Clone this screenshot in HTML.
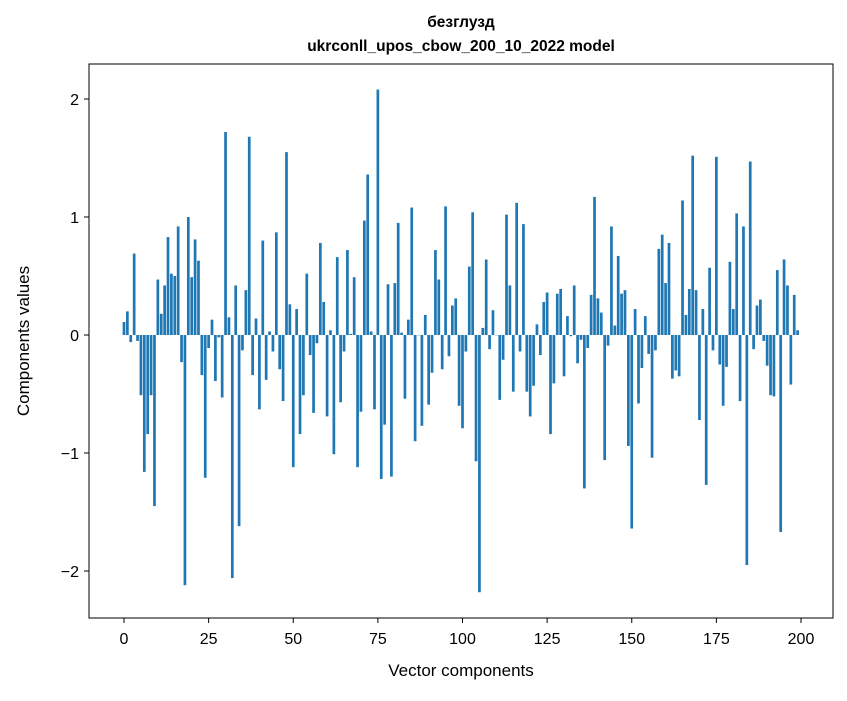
<!DOCTYPE html>
<html><head><meta charset="utf-8"><style>
body{margin:0;background:#fff;}
svg text{font-family:"Liberation Sans","Noto Sans CJK SC",sans-serif;fill:#000;}
</style></head><body>
<svg id="chart" width="847" height="696" viewBox="0 0 847 696" xmlns="http://www.w3.org/2000/svg">
<rect width="847" height="696" fill="#fff"/>
<text x="461" y="27" text-anchor="middle" font-size="15.5" font-weight="bold">безглузд</text>
<text x="461" y="51" text-anchor="middle" font-size="15.5" font-weight="bold">ukrconll_upos_cbow_200_10_2022 model</text>
<g id="bars"></g>
<g id="xticks"></g>
<g id="yticks"></g>
<rect x="89" y="64" width="744" height="554" fill="none" stroke="#000" stroke-width="1"/>
<text x="461" y="676" text-anchor="middle" font-size="17">Vector components</text>
<text transform="translate(29,341) rotate(-90)" text-anchor="middle" font-size="17">Components values</text>
</svg>
<script>
const values = [
0.11,0.20,-0.06,0.69,-0.05,-0.51,-1.16,-0.84,-0.51,-1.45,
0.47,0.18,0.42,0.83,0.52,0.50,0.92,-0.23,-2.12,1.00,
0.49,0.81,0.63,-0.34,-1.21,-0.11,0.13,-0.39,-0.02,-0.53,
1.72,0.15,-2.06,0.42,-1.62,-0.13,0.38,1.68,-0.34,0.14,
-0.63,0.80,-0.38,0.03,-0.14,0.87,-0.29,-0.56,1.55,0.26,
-1.12,0.22,-0.84,-0.51,0.52,-0.17,-0.66,-0.07,0.78,0.28,
-0.69,0.04,-1.01,0.66,-0.57,-0.14,0.72,0.01,0.49,-1.12,
-0.65,0.97,1.36,0.03,-0.63,2.08,-1.22,-0.76,0.43,-1.20,
0.44,0.95,0.02,-0.54,0.13,1.08,-0.90,0.00,-0.77,0.17,
-0.59,-0.32,0.72,0.47,-0.29,1.09,-0.18,0.25,0.31,-0.60,
-0.79,-0.14,0.58,1.04,-1.07,-2.18,0.06,0.64,-0.12,0.21,
0.00,-0.55,-0.21,1.02,0.42,-0.48,1.12,-0.14,0.94,-0.48,
-0.69,-0.43,0.09,-0.17,0.28,0.36,-0.84,-0.41,0.35,0.39,
-0.35,0.16,-0.01,0.42,-0.24,-0.04,-1.30,-0.11,0.34,1.17,
0.31,0.19,-1.06,-0.09,0.92,0.08,0.67,0.35,0.38,-0.94,
-1.64,0.22,-0.58,-0.28,0.16,-0.16,-1.04,-0.13,0.73,0.85,
0.44,0.78,-0.37,-0.30,-0.35,1.14,0.17,0.39,1.52,0.38,
-0.72,0.22,-1.27,0.57,-0.13,1.51,-0.25,-0.60,-0.27,0.62,
0.22,1.03,-0.56,0.92,-1.95,1.47,-0.12,0.25,0.30,-0.05,
-0.26,-0.51,-0.52,0.55,-1.67,0.64,0.42,-0.42,0.34,0.04
];
const xTicks = [0,25,50,75,100,125,150,175,200];
const yTicks = [-2,-1,0,1,2];
const NS="http://www.w3.org/2000/svg";
function xs(v){return 124 + v*(801-124)/200;}
function ys(v){return 335 - v*118;}
const bw = 0.8*(801-124)/200;
const gb=document.getElementById('bars');
values.forEach((v,i)=>{
  const r=document.createElementNS(NS,'rect');
  
  
  const y0=ys(Math.max(v,0)), y1=ys(Math.min(v,0));
  r.setAttribute('x',xs(i)-bw/2);r.setAttribute('y',y0);
  r.setAttribute('width',bw);r.setAttribute('height',Math.max(y1-y0,0.3));
  r.setAttribute('fill','#1f77b4');
  gb.appendChild(r);
});
const gx=document.getElementById('xticks');
xTicks.forEach(t=>{
  const l=document.createElementNS(NS,'line');
  
  
  l.setAttribute('x1',xs(t));l.setAttribute('x2',xs(t));l.setAttribute('y1',618);l.setAttribute('y2',623);l.setAttribute('stroke','#000');
  gx.appendChild(l);
  const tx=document.createElementNS(NS,'text');
  
  
  tx.setAttribute('x',xs(t));tx.setAttribute('y',644);tx.setAttribute('text-anchor','middle');tx.setAttribute('font-size','16');
  tx.textContent=String(t);
  gx.appendChild(tx);
});
const gy=document.getElementById('yticks');
yTicks.forEach(t=>{
  const l=document.createElementNS(NS,'line');
  
  
  l.setAttribute('x1',84);l.setAttribute('x2',89);l.setAttribute('y1',ys(t));l.setAttribute('y2',ys(t));l.setAttribute('stroke','#000');
  gy.appendChild(l);
  const tx=document.createElementNS(NS,'text');
  
  
  tx.setAttribute('x',79);tx.setAttribute('y',ys(t)+6);tx.setAttribute('text-anchor','end');tx.setAttribute('font-size','16');
  tx.textContent=(t<0?'\u2212'+(-t):String(t));
  gy.appendChild(tx);
});
</script>
</body></html>
